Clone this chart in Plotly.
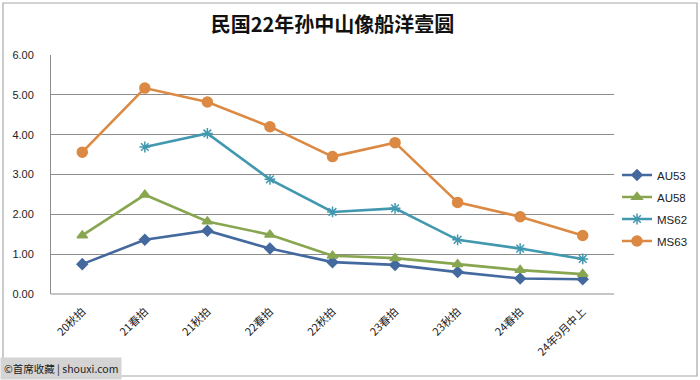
import plotly.graph_objects as go

categories = ["20秋拍", "21春拍", "21秋拍", "22春拍", "22秋拍", "23春拍", "23秋拍", "24春拍", "24年9月中上"]
au53 = [0.75, 1.36, 1.59, 1.14, 0.80, 0.73, 0.55, 0.39, 0.37]
au58 = [1.47, 2.49, 1.82, 1.49, 0.96, 0.90, 0.75, 0.60, 0.50]
ms62 = [None, 3.69, 4.03, 2.88, 2.06, 2.15, 1.36, 1.14, 0.88]
ms63 = [3.56, 5.17, 4.82, 4.20, 3.45, 3.80, 2.30, 1.94, 1.47]
y_ticks = [0, 1, 2, 3, 4, 5, 6]
title_text = "民国22年孙中山像船洋壹圆"
watermark = "©首席收藏 | shouxi.com"

series = [
    ("AU53", au53, "#44699F", "diamond", 8),
    ("AU58", au58, "#88A650", "triangle-up", 9),
    ("MS62", ms62, "#4198AF", "asterisk-open", 9),
    ("MS63", ms63, "#DB8943", "circle", 10),
]

fig = go.Figure()
for name, vals, color, sym, size in series:
    fig.add_trace(go.Scatter(
        x=list(range(len(categories))), y=vals, name=name, mode="lines+markers",
        legendgroup=name,
        line=dict(color=color, width=2.6),
        marker=dict(symbol=sym, size=size, color=color, line=dict(color=color, width=1.5)),
        connectgaps=False,
    ))

L, R, T, B = 51, 86, 55, 86
pw = 700 - L - R
ph = 380 - T - B

def px(x):
    return (x - L) / pw

def py(y):
    return (380 - B - y) / ph

fig.update_layout(
    width=700, height=380,
    margin=dict(l=L, r=R, t=T, b=B, autoexpand=False),
    paper_bgcolor="white", plot_bgcolor="white",
    font=dict(family="Noto Sans CJK SC, DejaVu Sans", color="#222222"),
    title=dict(text="<b>" + title_text + "</b>", x=0.5, xref="paper", xanchor="center",
               y=1 - 25 / 380, yanchor="middle",
               font=dict(size=20, color="#111111", family="Noto Sans CJK SC")),
    showlegend=True,
    legend=dict(x=px(617), y=py(208), xanchor="left", yanchor="middle",
                font=dict(size=11.5, family="Liberation Sans, DejaVu Sans", color="#222222"),
                tracegroupgap=3, itemwidth=30, bgcolor="rgba(0,0,0,0)"),
    xaxis=dict(range=[-0.5, len(categories) - 0.5], tickmode="array",
               tickvals=list(range(len(categories))), ticktext=categories,
               tickangle=-45, showgrid=False, zeroline=False, showline=False,
               ticks="", automargin=False, ticklabelstandoff=8,
               tickfont=dict(size=11, color="#222222")),
    yaxis=dict(range=[0, 6], tickmode="array", tickvals=y_ticks,
               ticktext=[f"{v:.2f}" for v in y_ticks],
               showgrid=True, gridcolor="#8C8C8C", gridwidth=1,
               zeroline=False, showline=True, linecolor="#8C8C8C", linewidth=1,
               ticks="", ticklabelstandoff=14, automargin=False,
               tickfont=dict(size=11, color="#222222", family="Liberation Sans, DejaVu Sans")),
)

fig.add_shape(type="line", xref="paper", yref="paper", x0=0, x1=1, y0=0, y1=0,
              line=dict(color="#8C8C8C", width=1))
fig.add_shape(type="rect", xref="paper", yref="paper",
              x0=px(3), x1=px(697), y0=py(376), y1=py(3),
              line=dict(color="#A8A8A8", width=1.2), layer="below")
fig.add_annotation(xref="paper", yref="paper", x=px(0), y=py(380),
                   xanchor="left", yanchor="bottom", text=watermark, showarrow=False,
                   bgcolor="#D4D4D4", borderpad=3,
                   font=dict(size=10.5, color="#222222", family="Noto Sans CJK SC"))

fig.write_html("out.html", config={"displayModeBar": False},
               post_script="document.body.style.margin='0';document.body.style.overflow='hidden';")
